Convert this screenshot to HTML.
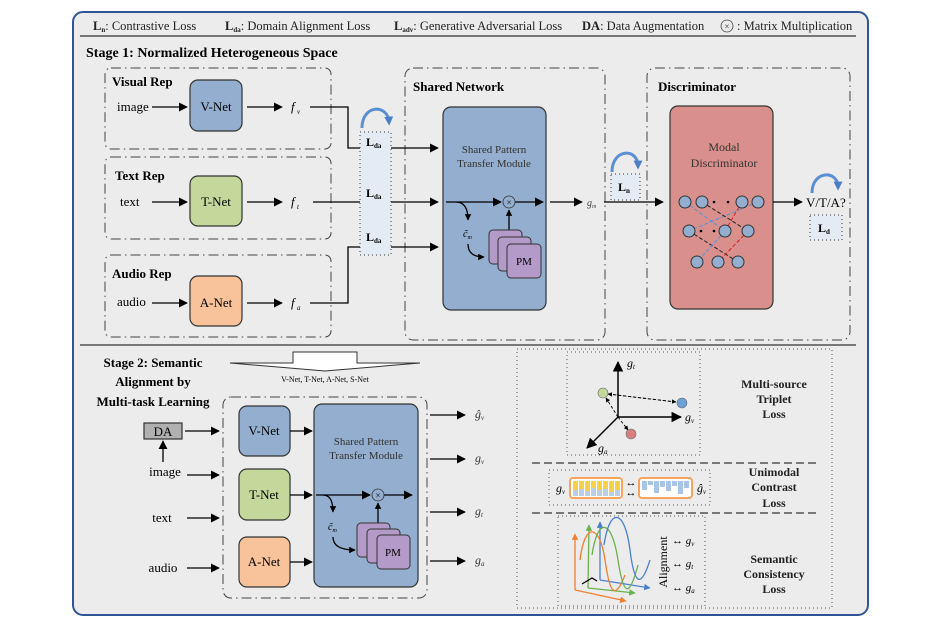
<!DOCTYPE html>
<html><head><meta charset="utf-8"><style>
html,body{margin:0;padding:0;background:#fff}
svg{display:block;font-family:"Liberation Serif",serif}
</style></head><body>
<svg width="930" height="622" viewBox="0 0 930 622" xmlns="http://www.w3.org/2000/svg">
<defs>
<marker id="ar" viewBox="0 0 10 10" refX="9" refY="5" markerWidth="7" markerHeight="7" orient="auto"><path d="M0,0 L10,5 L0,10 z" fill="#000"/></marker>
<marker id="as" viewBox="0 0 10 10" refX="9" refY="5" markerWidth="5" markerHeight="5" orient="auto"><path d="M0,0 L10,5 L0,10 z" fill="#000"/></marker>
<marker id="ab" viewBox="0 0 10 10" refX="6" refY="5" markerWidth="3" markerHeight="3" orient="auto"><path d="M0,0 L10,5 L0,10 z" fill="#4a7fc7"/></marker>
<marker id="ao" viewBox="0 0 10 10" refX="9" refY="5" markerWidth="5" markerHeight="5" orient="auto"><path d="M0,0 L10,5 L0,10 z" fill="#f08030"/></marker>
<marker id="ag" viewBox="0 0 10 10" refX="9" refY="5" markerWidth="5" markerHeight="5" orient="auto"><path d="M0,0 L10,5 L0,10 z" fill="#6ab04c"/></marker>
<marker id="abl" viewBox="0 0 10 10" refX="9" refY="5" markerWidth="5" markerHeight="5" orient="auto"><path d="M0,0 L10,5 L0,10 z" fill="#4a7fd0"/></marker>
</defs>
<rect x="73" y="12" width="795" height="603" rx="10" fill="#ececec" stroke="#2f5597" stroke-width="2"/>
<g font-size="12.5" fill="#222">
<text x="93" y="30"><tspan font-weight="bold">L</tspan><tspan font-size="7" font-weight="bold" dy="2">n</tspan><tspan dy="-2">: Contrastive Loss</tspan></text>
<text x="225" y="30"><tspan font-weight="bold">L</tspan><tspan font-size="7" font-weight="bold" dy="2">da</tspan><tspan dy="-2">: Domain Alignment Loss</tspan></text>
<text x="394" y="30"><tspan font-weight="bold">L</tspan><tspan font-size="7" font-weight="bold" dy="2">adv</tspan><tspan dy="-2">: Generative Adversarial Loss</tspan></text>
<text x="582" y="30"><tspan font-weight="bold">DA</tspan>: Data Augmentation</text>
<circle cx="727" cy="26" r="6" fill="none" stroke="#444" stroke-width="0.8"/><text x="727" y="29.5" font-size="9" text-anchor="middle">×</text>
<text x="737" y="30">: Matrix Multiplication</text>
</g>
<line x1="80" y1="36" x2="856" y2="36" stroke="#333" stroke-width="1.3"/>
<text x="86" y="57" font-size="14" font-weight="bold">Stage 1: Normalized Heterogeneous Space</text>
<g fill="none" stroke="#444" stroke-width="1" stroke-dasharray="10,4,1.5,4">
<rect x="105" y="68" width="226" height="81" rx="6"/>
<rect x="105" y="157" width="226" height="82" rx="6"/>
<rect x="105" y="255" width="226" height="82" rx="6"/>
<rect x="405" y="68" width="200" height="272" rx="8"/>
<rect x="647" y="68" width="203" height="272" rx="8"/>
<rect x="223" y="397" width="204" height="201" rx="8"/>
</g>
<g font-size="13" font-weight="bold">
<text x="112" y="86">Visual Rep</text><text x="115" y="180">Text Rep</text><text x="112" y="278">Audio Rep</text>
<text x="413" y="91">Shared Network</text><text x="658" y="91">Discriminator</text>
</g>
<g stroke="#333" stroke-width="1.2">
<rect x="190" y="80" width="52" height="51" rx="8" fill="#93aece"/>
<rect x="190" y="176" width="52" height="50" rx="8" fill="#c5d89c"/>
<rect x="190" y="276" width="52" height="50" rx="8" fill="#f8c39a"/>
</g>
<g font-size="13" text-anchor="middle"><text x="216" y="111">V-Net</text><text x="216" y="206">T-Net</text><text x="216" y="307">A-Net</text></g>
<g font-size="13"><text x="117" y="111">image</text><text x="120" y="206">text</text><text x="117" y="306">audio</text></g>
<g stroke="#000" stroke-width="1.3" fill="none" marker-end="url(#ar)">
<line x1="152" y1="107" x2="187" y2="107"/><line x1="247" y1="107" x2="282" y2="107"/>
<line x1="152" y1="202" x2="187" y2="202"/><line x1="247" y1="202" x2="282" y2="202"/>
<line x1="152" y1="303" x2="187" y2="303"/><line x1="247" y1="303" x2="282" y2="303"/>
<polyline points="310,107 348,107 348,148 438,148"/>
<line x1="313" y1="202" x2="438" y2="202"/>
<polyline points="310,303 348,303 348,247 438,247"/>
</g>
<g font-size="13" font-style="italic"><text x="291" y="111">f</text><text x="297" y="114" font-size="7">v</text>
<text x="291" y="206">f</text><text x="297" y="209" font-size="7">t</text>
<text x="291" y="307">f</text><text x="297" y="310" font-size="7">a</text></g>
<rect x="360" y="132" width="31" height="123" fill="#e4ebf5" stroke="#333" stroke-width="1" stroke-dasharray="1,3"/>
<g font-size="12" font-weight="bold"><text x="366" y="146">L<tspan font-size="7" dy="2">da</tspan></text><text x="366" y="197">L<tspan font-size="7" dy="2">da</tspan></text><text x="366" y="241">L<tspan font-size="7" dy="2">da</tspan></text></g>
<path d="M362,128 C362,104 388,104 389,122" fill="none" stroke="#5b8fd4" stroke-width="3" marker-end="url(#ab)"/>
<rect x="443" y="107" width="103" height="203" rx="8" fill="#93aece" stroke="#333" stroke-width="1.2"/>
<g font-size="11" text-anchor="middle" fill="#333"><text x="494" y="153">Shared Pattern</text><text x="494" y="167">Transfer Module</text></g>
<g stroke="#000" stroke-width="1.3" fill="none">
<line x1="446" y1="202" x2="501" y2="202" marker-end="url(#ar)"/>
<line x1="515" y1="202" x2="543" y2="202" marker-end="url(#ar)"/>
<line x1="550" y1="202" x2="582" y2="202" marker-end="url(#ar)"/>
<path d="M456,202 Q468,202 468,220" marker-end="url(#as)"/>
<path d="M468,244 Q468,257 484,257" marker-end="url(#as)"/>
<line x1="509" y1="230" x2="509" y2="210" marker-end="url(#as)"/>
</g>
<circle cx="509" cy="202" r="6" fill="#93aece" stroke="#333" stroke-width="0.8"/><text x="509" y="205.5" font-size="9" text-anchor="middle">×</text>
<g stroke="#333" stroke-width="1" fill="#b39ac8">
<rect x="489" y="230" width="33" height="34" rx="4"/><rect x="498" y="237" width="33" height="34" rx="4"/><rect x="507" y="244" width="34" height="34" rx="4"/></g>
<text x="524" y="265" font-size="11" text-anchor="middle">PM</text>
<text x="463" y="237" font-size="10" font-style="italic">c̃<tspan font-size="6" dy="2">m</tspan></text>
<text x="587" y="206" font-size="10" font-style="italic" fill="#444">g<tspan font-size="6" dy="2">m</tspan></text>
<line x1="604" y1="202" x2="663" y2="202" stroke="#000" stroke-width="1.3" marker-end="url(#ar)"/>
<rect x="611" y="174" width="29" height="26" fill="#e4ebf5" stroke="#333" stroke-dasharray="1,3"/>
<text x="618" y="191" font-size="12" font-weight="bold">L<tspan font-size="7" dy="2">n</tspan></text>
<path d="M612,172 C612,148 638,148 638,166" fill="none" stroke="#5b8fd4" stroke-width="3" marker-end="url(#ab)"/>
<rect x="670" y="106" width="103" height="203" rx="8" fill="#d9908c" stroke="#333" stroke-width="1.2"/>
<g font-size="12" text-anchor="middle" fill="#333"><text x="724" y="151">Modal</text><text x="724" y="167">Discriminator</text></g>
<g stroke-width="1" stroke-dasharray="4,2" fill="none">
<line x1="685" y1="202" x2="725" y2="231" stroke="#5b8fd4"/><line x1="758" y1="202" x2="689" y2="231" stroke="#5b8fd4"/>
<line x1="702" y1="202" x2="748" y2="231" stroke="#222"/><line x1="742" y1="202" x2="725" y2="231" stroke="#d02020"/>
<line x1="689" y1="231" x2="738" y2="262" stroke="#222"/><line x1="725" y1="231" x2="697" y2="262" stroke="#5b8fd4"/>
<line x1="748" y1="231" x2="718" y2="262" stroke="#d02020"/>
</g>
<g fill="#93aece" stroke="#333" stroke-width="1">
<circle cx="685" cy="202" r="6"/><circle cx="702" cy="202" r="6"/><circle cx="742" cy="202" r="6"/><circle cx="758" cy="202" r="6"/>
<circle cx="689" cy="231" r="6"/><circle cx="725" cy="231" r="6"/><circle cx="748" cy="231" r="6"/>
<circle cx="697" cy="262" r="6"/><circle cx="718" cy="262" r="6"/><circle cx="738" cy="262" r="6"/></g>
<g fill="#000"><circle cx="714" cy="202" r="1.3"/><circle cx="728" cy="202" r="1.3"/><circle cx="701" cy="231" r="1.3"/><circle cx="714" cy="231" r="1.3"/></g>
<line x1="773" y1="202" x2="802" y2="202" stroke="#000" stroke-width="1.3" marker-end="url(#ar)"/>
<text x="806" y="207" font-size="13">V/T/A?</text>
<rect x="810" y="215" width="32" height="25" fill="#e4ebf5" stroke="#333" stroke-dasharray="1,3"/>
<text x="818" y="232" font-size="12" font-weight="bold">L<tspan font-size="7" dy="2">d</tspan></text>
<path d="M812,193 C812,170 838,170 838,187" fill="none" stroke="#5b8fd4" stroke-width="3" marker-end="url(#ab)"/>
<line x1="80" y1="345" x2="856" y2="345" stroke="#333" stroke-width="1.3"/>
<g font-size="13" font-weight="bold" text-anchor="middle"><text x="153" y="367">Stage 2: Semantic</text><text x="153" y="386">Alignment by</text><text x="153" y="406">Multi-task Learning</text></g>
<polygon points="230,363 293,363 293,352 357,352 357,363 420,363 325,371" fill="#fff" stroke="#333" stroke-width="1"/>
<text x="325" y="382" font-size="8" text-anchor="middle">V-Net, T-Net, A-Net, S-Net</text>
<g stroke="#333" stroke-width="1.2">
<rect x="239" y="406" width="51" height="50" rx="8" fill="#93aece"/>
<rect x="239" y="469" width="51" height="51" rx="8" fill="#c5d89c"/>
<rect x="239" y="537" width="51" height="50" rx="8" fill="#f8c39a"/>
<rect x="314" y="404" width="104" height="183" rx="8" fill="#93aece"/>
<rect x="144" y="423" width="38" height="16" fill="#b0b0b0"/>
</g>
<g font-size="13" text-anchor="middle"><text x="264" y="435">V-Net</text><text x="264" y="499">T-Net</text><text x="264" y="566">A-Net</text><text x="163" y="436">DA</text>
<text x="165" y="476">image</text><text x="162" y="522">text</text><text x="163" y="572">audio</text></g>
<g font-size="11" text-anchor="middle" fill="#333"><text x="366" y="445">Shared Pattern</text><text x="366" y="459">Transfer Module</text></g>
<g stroke="#000" stroke-width="1.3" fill="none" marker-end="url(#ar)">
<line x1="290" y1="431" x2="312" y2="431"/><line x1="290" y1="495" x2="312" y2="495"/><line x1="290" y1="562" x2="312" y2="562"/>
<line x1="185" y1="431" x2="219" y2="431"/><line x1="163" y1="462" x2="163" y2="441"/>
<line x1="187" y1="475" x2="219" y2="475"/><line x1="187" y1="518" x2="219" y2="518"/><line x1="187" y1="568" x2="219" y2="568"/>
<line x1="316" y1="495" x2="370" y2="495"/><line x1="384" y1="495" x2="412" y2="495"/>
<line x1="430" y1="415" x2="465" y2="415"/><line x1="430" y1="459" x2="465" y2="459"/><line x1="430" y1="512" x2="465" y2="512"/><line x1="430" y1="561" x2="465" y2="561"/>
</g>
<g stroke="#000" stroke-width="1.3" fill="none">
<path d="M323,495 Q333,495 333,512" marker-end="url(#as)"/>
<path d="M333,537 Q333,550 355,550" marker-end="url(#as)"/>
<line x1="378" y1="523" x2="378" y2="503" marker-end="url(#as)"/>
</g>
<circle cx="378" cy="495" r="6" fill="#93aece" stroke="#333" stroke-width="0.8"/><text x="378" y="498.5" font-size="9" text-anchor="middle">×</text>
<g stroke="#333" stroke-width="1" fill="#b39ac8">
<rect x="357" y="523" width="33" height="34" rx="4"/><rect x="367" y="529" width="33" height="34" rx="4"/><rect x="377" y="535" width="33" height="34" rx="4"/></g>
<text x="393" y="556" font-size="11" text-anchor="middle">PM</text>
<text x="328" y="530" font-size="10" font-style="italic">c̃<tspan font-size="6" dy="2">m</tspan></text>
<g font-size="12" font-style="italic" fill="#333"><text x="475" y="418">ĝ<tspan font-size="7" dy="2">v</tspan></text><text x="475" y="462">g<tspan font-size="7" dy="2">v</tspan></text><text x="475" y="515">g<tspan font-size="7" dy="2">t</tspan></text><text x="475" y="564">g<tspan font-size="7" dy="2">a</tspan></text></g>
<g fill="none" stroke="#555" stroke-width="1" stroke-dasharray="1,3">
<rect x="517" y="349" width="315" height="259"/>
<rect x="567" y="352" width="133" height="103"/>
<rect x="549" y="470" width="161" height="35"/>
<rect x="558" y="516" width="147" height="90"/>
</g>
<g stroke="#333" stroke-width="1.3" stroke-dasharray="8,4"><line x1="532" y1="463" x2="820" y2="463"/><line x1="532" y1="513" x2="820" y2="513"/></g>
<g stroke="#000" stroke-width="1.5" fill="none" marker-end="url(#ar)">
<line x1="618" y1="417" x2="618" y2="362"/><line x1="618" y1="417" x2="681" y2="417"/><line x1="618" y1="417" x2="587" y2="448"/></g>
<g stroke="#000" stroke-width="0.9" stroke-dasharray="3,2" fill="none" marker-end="url(#as)">
<line x1="676" y1="402" x2="608" y2="394"/><line x1="608" y1="394" x2="676" y2="402"/>
<line x1="618" y1="417" x2="606" y2="398"/><line x1="618" y1="417" x2="628" y2="430"/></g>
<circle cx="603" cy="393" r="5" fill="#c5d89c" stroke="#666" stroke-width="0.6"/>
<circle cx="682" cy="403" r="5" fill="#6ea0d8" stroke="#666" stroke-width="0.6"/>
<circle cx="631" cy="434" r="5" fill="#d88080" stroke="#666" stroke-width="0.6"/>
<g font-size="12" font-style="italic"><text x="627" y="367">g<tspan font-size="7" dy="2">t</tspan></text><text x="685" y="421">g<tspan font-size="7" dy="2">v</tspan></text><text x="598" y="452">g<tspan font-size="7" dy="2">a</tspan></text>
<text x="556" y="492">g<tspan font-size="7" dy="2">v</tspan></text><text x="697" y="492">ĝ<tspan font-size="7" dy="2">v</tspan></text></g>
<g font-size="12" font-weight="bold" text-anchor="middle" fill="#222">
<text x="774" y="388">Multi-source</text><text x="774" y="403">Triplet</text><text x="774" y="418">Loss</text>
<text x="774" y="476">Unimodal</text><text x="774" y="491">Contrast</text><text x="774" y="507">Loss</text>
<text x="774" y="563">Semantic</text><text x="774" y="578">Consistency</text><text x="774" y="593">Loss</text></g>
<rect x="570" y="478" width="52" height="20" rx="3" fill="#fff" stroke="#f4a460" stroke-width="2"/>
<g fill="#f5d04a"><rect x="573" y="481" width="5" height="9"/><rect x="579" y="481" width="5" height="8"/><rect x="585" y="481" width="5" height="10"/><rect x="591" y="481" width="5" height="7"/><rect x="597" y="481" width="5" height="9"/><rect x="603" y="481" width="5" height="8"/><rect x="609" y="481" width="5" height="11"/><rect x="615" y="481" width="5" height="9"/></g>
<g fill="#b8cfe8"><rect x="573" y="490" width="5" height="6"/><rect x="579" y="489" width="5" height="7"/><rect x="585" y="491" width="5" height="5"/><rect x="591" y="488" width="5" height="8"/><rect x="597" y="490" width="5" height="6"/><rect x="603" y="489" width="5" height="7"/><rect x="609" y="492" width="5" height="4"/><rect x="615" y="490" width="5" height="6"/></g>
<rect x="639" y="478" width="53" height="20" rx="3" fill="#fff" stroke="#f4a460" stroke-width="2"/>
<g fill="#a8c4e6"><rect x="642" y="481" width="5" height="9"/><rect x="648" y="481" width="5" height="4"/><rect x="654" y="481" width="5" height="12"/><rect x="660" y="481" width="5" height="6"/><rect x="666" y="481" width="5" height="10"/><rect x="672" y="481" width="5" height="5"/><rect x="678" y="481" width="5" height="13"/><rect x="684" y="481" width="5" height="7"/></g>
<g font-size="11" text-anchor="middle"><text x="631" y="486">↔</text><text x="631" y="496">↔</text></g>
<g fill="none" stroke-width="1.3">
<polyline points="575,590 575,534" stroke="#f08030" marker-end="url(#ao)"/><polyline points="575,590 626,601" stroke="#f08030" marker-end="url(#ao)"/>
<polyline points="588,588 589,525" stroke="#6ab04c" marker-end="url(#ag)"/><polyline points="588,588 635,593" stroke="#6ab04c" marker-end="url(#ag)"/>
<polyline points="600,580 600,522" stroke="#4a7fd0" marker-end="url(#abl)"/><polyline points="600,580 650,588" stroke="#4a7fd0" marker-end="url(#abl)"/>
<path d="M580,560 C585,520 600,525 605,560 S615,600 625,575" stroke="#f08030"/>
<path d="M592,555 C598,515 612,520 618,560 S630,595 638,565" stroke="#6ab04c"/>
<path d="M604,545 C610,505 625,510 630,550 S642,585 650,560" stroke="#4a7fd0"/>
</g>
<path d="M582,584 L592,578 L597,581" fill="none" stroke="#000" stroke-width="1.3"/>
<text transform="translate(667,562) rotate(-90)" font-size="12" text-anchor="middle">Alignment</text>
<g font-size="11"><text x="672" y="544">↔ <tspan font-style="italic">g</tspan><tspan font-size="7" dy="2" font-style="italic">v</tspan></text>
<text x="672" y="567">↔ <tspan font-style="italic">g</tspan><tspan font-size="7" dy="2" font-style="italic">t</tspan></text>
<text x="672" y="591">↔ <tspan font-style="italic">g</tspan><tspan font-size="7" dy="2" font-style="italic">a</tspan></text></g>
</svg>
</body></html>
